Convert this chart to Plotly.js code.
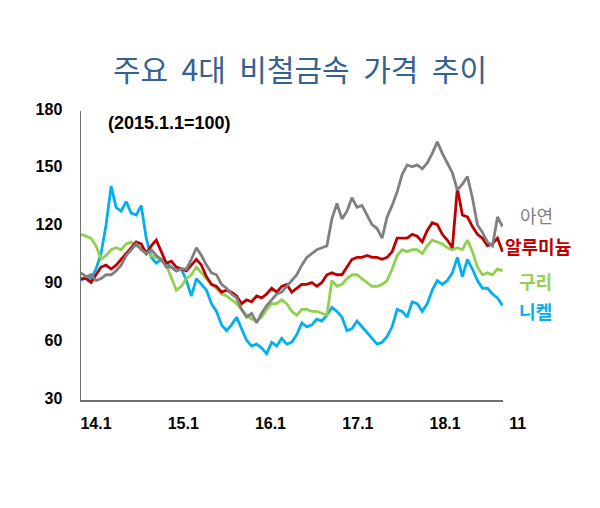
<!DOCTYPE html>
<html>
<head>
<meta charset="utf-8">
<script src="https://cdn.plot.ly/plotly-3.0.1.min.js"></script>
<style>html,body{margin:0;padding:0;background:#fff;}#chart{width:600px;height:508px;}</style>
</head>
<body>
<div id="chart"></div>
<script>
// Index 2015.1.1 = 100, one reading every 3 weeks from 2014-01-01
const startDate = '2014-01-01';
const stepDays = 21;

const seriesNames = ['니켈', '구리', '알루미늄', '아연'];

const nickel = [92,94,93,98,106,121,141,130,128,133,
  127,126,131,114,104,101,103,101,99,97,
  98,92,84,93,90,87,80,76,69,66,
  69,73,67,61,58,59,57,54,60,58,
  62,59,60,64,70,68,69,72,71,74,
  78,76,73,66,67,71,68,65,62,59,
  60,63,68,77,76,73,81,80,76,80,
  87,92,90,92,96,104,94,103,98,92,
  88,88,85,83,79];

const copper = [116,115,114,110,103,105,108,109,108,111,
  112,110,109,107,105,104,103,100,93,87,
  89,93,95,99,96,93,90,88,85,84,
  82,80,77,74,72,71,73,77,80,80,
  82,80,76,74,77,77,76,76,75,74,
  92,89,90,93,95,95,93,91,89,89,
  90,92,98,105,108,107,108,108,106,110,
  113,112,111,109,108,109,108,113,107,99,
  95,96,95,98,97];

const aluminum = [93,93,91,95,99,100,98,100,103,106,
  109,112,111,106,110,113,107,101,102,99,
  98,97,100,103,100,94,90,89,86,87,
  86,84,80,82,81,84,83,85,88,86,
  89,90,86,88,90,90,91,89,91,95,
  96,95,95,99,103,104,104,105,104,104,
  103,104,107,114,114,114,116,115,112,118,
  122,121,116,113,109,140,126,125,120,116,
  114,110,111,114,107];

const zinc = [96,94,95,92,93,95,95,97,100,105,
  108,111,108,106,108,105,103,99,99,97,
  98,98,103,109,105,100,96,95,90,88,
  85,83,77,73,75,70,75,79,82,85,
  86,89,92,95,100,104,106,108,109,110,
  124,132,124,128,135,130,131,126,121,119,
  114,125,131,138,147,152,151,152,150,153,
  158,164,158,153,148,139,142,146,135,121,
  117,112,110,125,120];

const xTickVals = ['2014-01-01','2015-01-01','2016-01-01','2017-01-01','2018-01-01','2018-11-01'];
const xTickText = ['14.1','15.1','16.1','17.1','18.1','11'];
const yTickVals = [30,60,90,120,150,180];

const colors = ['#00B0F0', '#92D050', '#C00000', '#808080'];
const seriesData = [nickel, copper, aluminum, zinc];

const traces = seriesData.map((vals, i) => ({
  type: 'scatter', mode: 'lines',
  name: seriesNames[i],
  x0: startDate, dx: stepDays * 86400000,
  y: vals,
  line: {color: colors[i], width: 2.8},
  hoverinfo: 'skip'
}));

const labelY = {'아연': 126, '알루미늄': 110, '구리': 92, '니켈': 76};
const labelX = {'아연': 1.035, '알루미늄': 1.0, '구리': 1.032, '니켈': 1.032};
const labelColor = {'아연': '#808080', '알루미늄': '#C00000', '구리': '#92D050', '니켈': '#00B0F0'};

const annotations = ['아연','알루미늄','구리','니켈'].map(n => ({
  text: n, xref: 'paper', yref: 'y', x: labelX[n], y: labelY[n],
  xanchor: 'left', yanchor: 'middle', showarrow: false,
  font: {family: 'Noto Sans CJK KR', size: 18, color: labelColor[n], weight: n === '아연' ? 400 : 700}
}));
annotations.push({
  text: '(2015.1.1=100)', xref: 'paper', yref: 'paper', x: 0.059, y: 0.958,
  xanchor: 'left', yanchor: 'middle', showarrow: false,
  font: {family: 'Liberation Sans, Arial', size: 18, color: '#000', weight: 700}
});

const layout = {
  width: 600, height: 508,
  margin: {l: 81, r: 97, t: 111, b: 108, pad: 0},
  paper_bgcolor: '#fff', plot_bgcolor: '#fff',
  showlegend: false,
  title: {
    text: '주요  4대  비철금속  가격  추이',
    xref: 'container', x: 0.5, xanchor: 'center',
    yref: 'container', y: 1 - 70/508, yanchor: 'middle',
    font: {family: 'Noto Sans CJK KR', size: 30, color: '#35618F'}
  },
  xaxis: {
    type: 'date', range: ['2014-01-01', '2018-11-02'],
    tickmode: 'array', tickvals: xTickVals, ticktext: xTickText,
    showline: true, linecolor: '#6f6f6f', linewidth: 1.5,
    ticks: '', showgrid: false, zeroline: false,
    ticklabelshift: 15, ticklabelstandoff: 8,
    tickfont: {family: 'Liberation Sans, Arial', size: 16, color: '#000', weight: 700}
  },
  yaxis: {
    range: [30, 180], tickmode: 'array', tickvals: yTickVals,
    showline: true, linecolor: '#6f6f6f', linewidth: 1.5,
    ticks: '', showgrid: false, zeroline: false,
    ticklabelstandoff: 14, ticklabelshift: -2,
    tickfont: {family: 'Liberation Sans, Arial', size: 16, color: '#000', weight: 700}
  },
  annotations: annotations
};

Plotly.newPlot('chart', traces, layout, {displayModeBar: false, staticPlot: true});
</script>
</body>
</html>
